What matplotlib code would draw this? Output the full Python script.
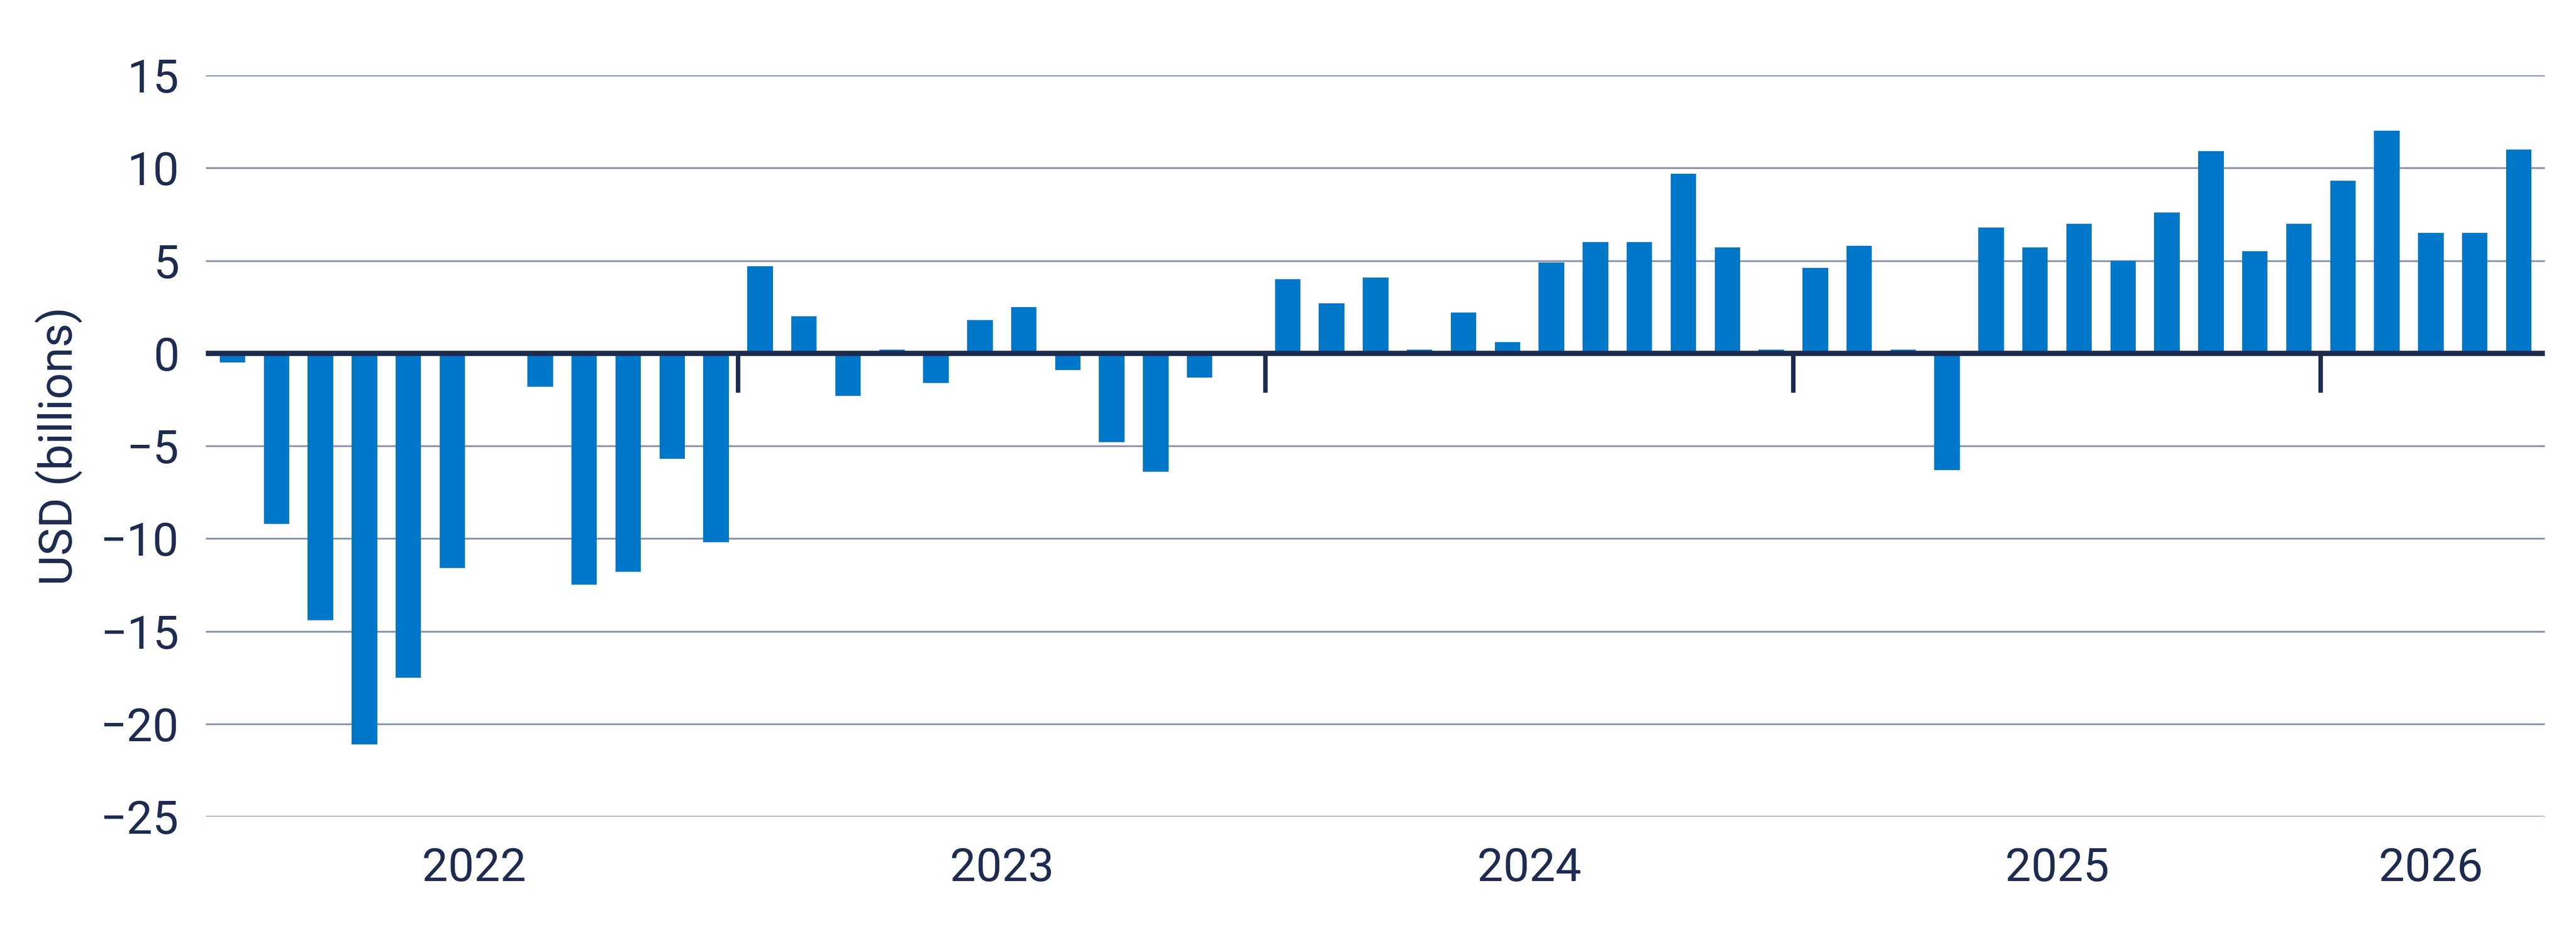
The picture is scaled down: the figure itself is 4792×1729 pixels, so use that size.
import matplotlib
matplotlib.use("Agg")
import matplotlib.pyplot as plt
import numpy as np

values = [-0.5, -9.2, -14.4, -21.1, -17.5, -11.6, -0.1, -1.8, -12.5, -11.8, -5.7, -10.2,
          4.7, 2.0, -2.3, 0.2, -1.6, 1.8, 2.5, -0.9, -4.8, -6.4, -1.3, -0.1,
          4.0, 2.7, 4.1, 0.2, 2.2, 0.6, 4.9, 6.0, 6.0, 9.7, 5.7, 0.2,
          4.6, 5.8, 0.2, -6.3, 6.8, 5.7, 7.0, 5.0, 7.6, 10.9, 5.5, 7.0,
          9.3, 12.0, 6.5, 6.5, 11.0]
years = ["2022", "2023", "2024", "2025", "2026"]
yticks = [15, 10, 5, 0, -5, -10, -15, -20, -25]

navy = "#1d2b4f"
plt.rcParams['font.family'] = ['Roboto', 'DejaVu Sans']
fig = plt.figure(figsize=(23.96, 8.645), dpi=200)
ax = fig.add_axes([0.08, 0.122, 0.908, 0.797])
x = np.arange(len(values))
ax.bar(x, values, width=0.58, color="#0077c8", zorder=3)
ax.set_xlim(-0.6, len(values) - 0.4)
ax.set_ylim(-25, 15)
ax.set_yticks(yticks)
ax.set_yticklabels([str(v).replace("-", "\u2212") for v in yticks])
ax.grid(axis="y", color="#8a93a8", linewidth=1.2, zorder=0)
ax.axhline(0, color=navy, linewidth=3.5, zorder=4)
for s in ax.spines.values():
    s.set_visible(False)
ax.tick_params(axis="y", length=0, labelsize=31, labelcolor=navy, pad=18)
# year boundaries
for b in range(12, len(values), 12):
    ax.plot([b - 0.5, b - 0.5], [0, -2.0], color=navy, linewidth=3, zorder=4)
centers = [min(i * 12 + 5.5, (i * 12 + len(values) - 1) / 2) for i in range(len(years))]
centers = [(i * 12 + min(i * 12 + 11, len(values) - 1)) / 2 for i in range(len(years))]
ax.set_xticks(centers)
ax.set_xticklabels(years)
ax.tick_params(axis="x", length=0, labelsize=31, labelcolor=navy, pad=20)
ax.set_ylabel("USD (billions)", fontsize=31, color=navy, labelpad=12)
fig.savefig("out.png", dpi=200)
